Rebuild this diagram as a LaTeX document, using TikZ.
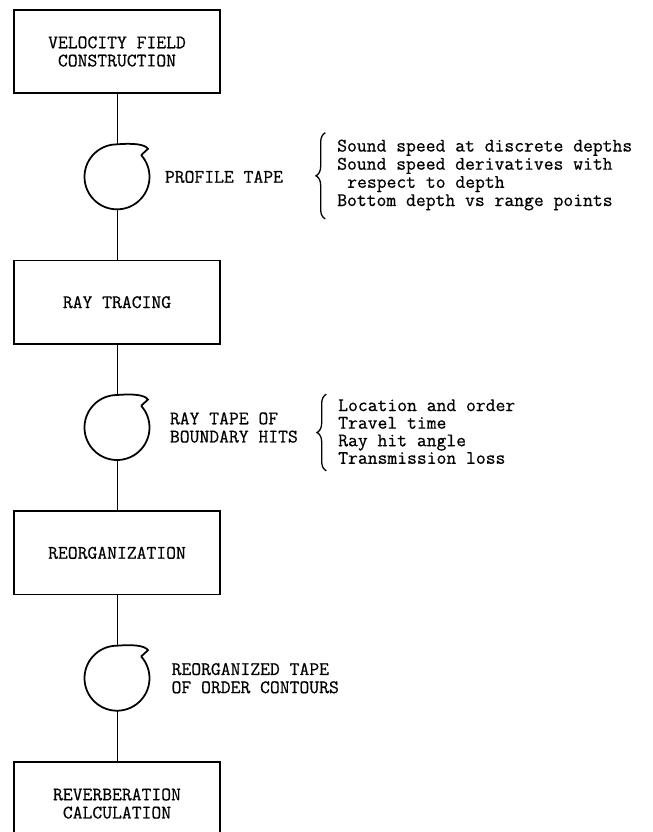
\documentclass[tikz,border=0pt]{standalone}
\usepackage{fontspec}
\setmonofont{Latin Modern Mono}[FakeBold=0.6]
\usepackage{tikz}
\usetikzlibrary{positioning, decorations.pathreplacing}

% tape reel outline round a named (invisible) circle node
\newcommand{\tapereel}[1]{%
  \draw[reel] ([shift={(42:0.975)}]#1.center)
    arc[start angle=42, end angle=-270, radius=0.975]
    .. controls +(0.5,0.04) and +(-0.1,0.14) .. ++(0.93,-0.135)
    .. controls +(-0.12,-0.07) .. ([shift={(42:0.975)}]#1.center);}

\begin{document}
\begin{tikzpicture}[
    node distance=1.5cm,
    every node/.style={font=\ttfamily\fontsize{16.3}{15.5}\selectfont},
    procbox/.style={draw, line width=1.6pt, minimum width=6.18cm, minimum height=2.5cm, align=center},
    tapenode/.style={circle, minimum size=1.95cm, inner sep=0pt},
    reel/.style={line width=1.5pt},
    link/.style={line width=0.8pt},
    tapelbl/.style={inner sep=0pt, align=left},
    notes/.style={inner sep=0pt, align=left, anchor=west},
    bracket/.style={line width=1.1pt, decorate, decoration={brace, amplitude=0.28cm}}
  ]
  \useasboundingbox (0,0) rectangle (19.56,-24.96);

  % processing chain
  \node[procbox] (vfc) at (3.51,-1.545) {VELOCITY FIELD\\CONSTRUCTION};
  \node[tapenode, below=of vfc] (proftape) {};
  \node[procbox, below=of proftape] (raytr) {RAY TRACING};
  \node[tapenode, below=of raytr] (raytape) {};
  \node[procbox, below=of raytape] (reorg) {REORGANIZATION};
  \node[tapenode, below=of reorg] (ordtape) {};
  \node[procbox, below=of ordtape] (reverb) {REVERBERATION\\CALCULATION};

  \draw[link] (vfc) -- (proftape);
  \draw[link] (proftape) -- (raytr);
  \draw[link] (raytr) -- (raytape);
  \draw[link] (raytape) -- (reorg);
  \draw[link] (reorg) -- (ordtape);
  \draw[link] (ordtape) -- (reverb);

  \tapereel{proftape}
  \tapereel{raytape}
  \tapereel{ordtape}

  % tape labels
  \node[tapelbl, right=0.45cm of proftape] (proflbl) {PROFILE TAPE};
  \node[tapelbl, right=0.6cm of raytape] (raylbl) {RAY TAPE OF\\BOUNDARY HITS};
  \node[tapelbl, right=0.65cm of ordtape] (ordlbl) {REORGANIZED TAPE\\OF ORDER CONTOURS};

  % tape contents
  \node[notes] (profnotes) at (10.11,-5.25) {Sound speed at discrete depths\\
    Sound speed derivatives with\\
    \hspace*{0.525em}respect to depth\\
    Bottom depth vs range points};
  \node[notes, font=\ttfamily\fontsize{16.3}{15}\selectfont] (raynotes) at (10.14,-12.95) {Location and order\\
    Travel time\\
    Ray hit angle\\
    Transmission loss};

  \draw[bracket] ([xshift=-0.35cm,yshift=-0.25cm]profnotes.south west) -- ([xshift=-0.35cm,yshift=0.2cm]profnotes.north west);
  \draw[bracket] ([xshift=-0.35cm,yshift=-0.2cm]raynotes.south west) -- ([xshift=-0.35cm,yshift=0.15cm]raynotes.north west);
\end{tikzpicture}
\end{document}
